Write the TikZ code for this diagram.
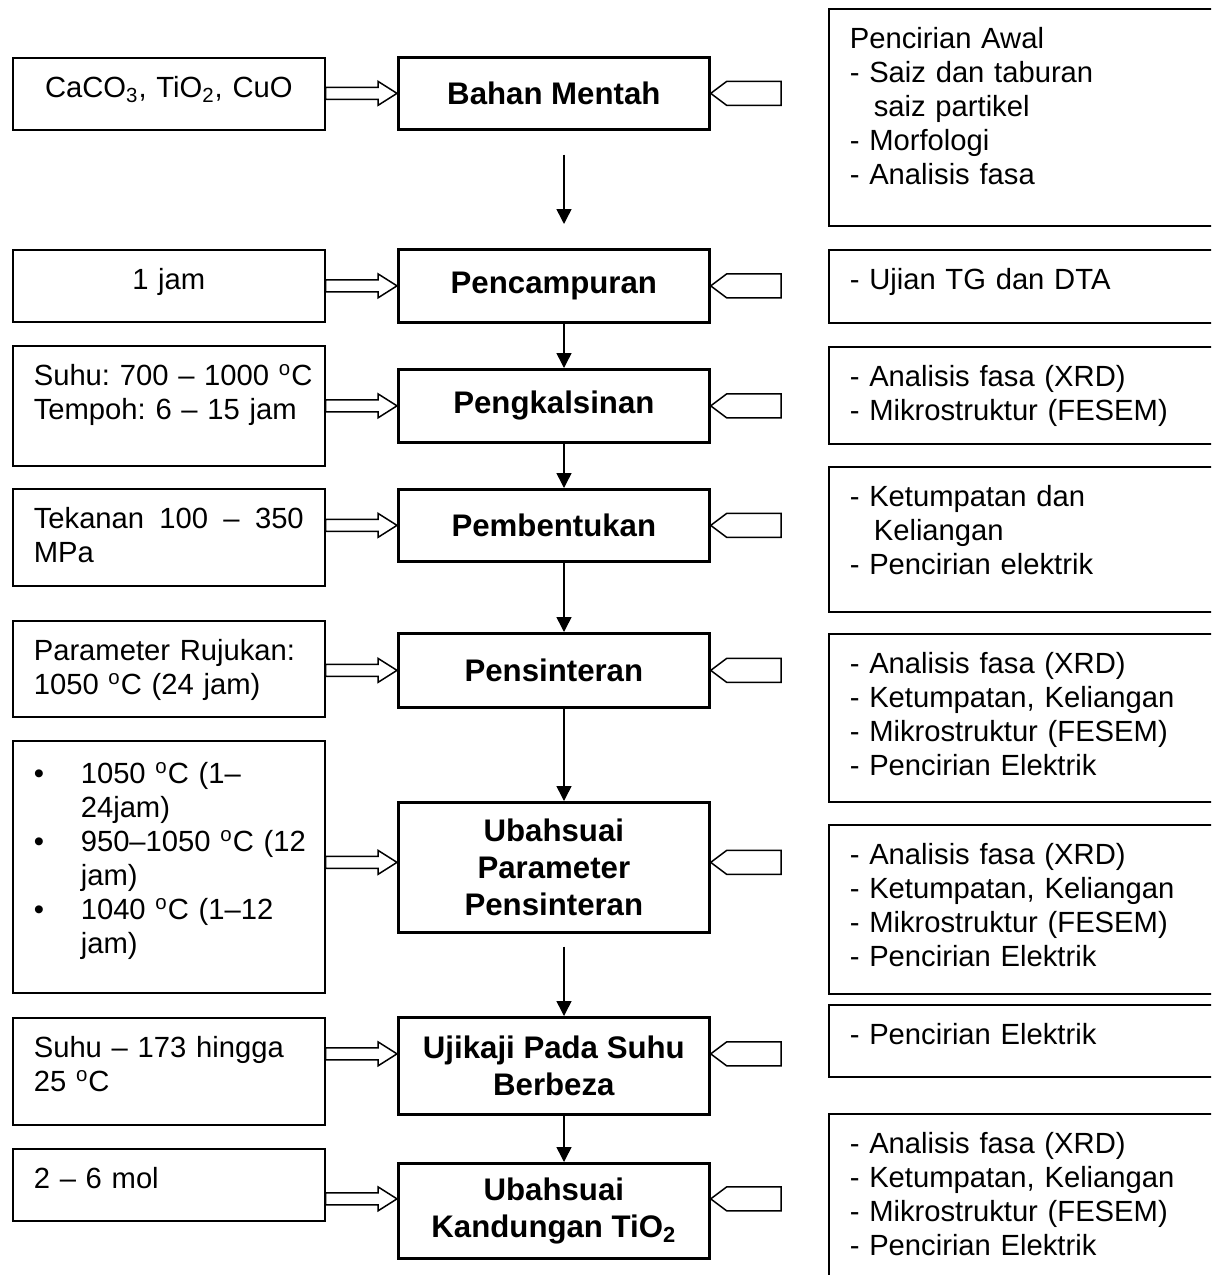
\documentclass[tikz,border=0pt]{standalone}
\usepackage{fontspec}
\setmainfont{Liberation Sans}
\usepackage{tikz}
\usetikzlibrary{calc, arrows.meta}
\hyphenpenalty=10000
\exhyphenpenalty=10000
\frenchspacing

\begin{document}
\begin{tikzpicture}[x=0.5pt, y=-0.5pt,
  every node/.style={font=\fontsize{14.6}{17}\selectfont},
  note/.style={draw, line width=0.8pt, anchor=north west, align=left,
              inner xsep=10.5pt, inner ysep=0pt, text height=20pt},
  input/.style={note, text width=135pt},
  check/.style={note, text width=184pt},
  stage/.style={draw, line width=1.35pt, anchor=north west, align=center,
              minimum width=155.5pt, inner sep=0pt,
              font=\fontsize{15.6}{18.5}\selectfont\bfseries},
  flow/.style={line width=0.75pt, -{Triangle[length=7.5pt, width=7.5pt]}},
  feed/.style={draw, line width=0.75pt, to path={let \p1=(\tikztostart), \p2=(\tikztotarget) in
     (\x1,\y2+3pt) -- (\x2-9.5pt,\y2+3pt) -- (\x2-9.5pt,\y2+6pt) -- (\x2,\y2)
     -- (\x2-9.5pt,\y2-6pt) -- (\x2-9.5pt,\y2-3pt) -- (\x1,\y2-3pt) -- cycle}},
  tag/.style={draw, line width=0.75pt, to path={let \p1=(\tikztostart), \p2=(\tikztotarget) in
     (\x1,\y2+6pt) -- (\x2+8pt,\y2+6pt) -- (\x2,\y2) -- (\x2+8pt,\y2-6pt)
     -- (\x1,\y2-6pt) -- cycle}},
]
\useasboundingbox (0,0) rectangle (1211,1275);
\clip (0,0) rectangle (1211,1275);

% process steps
\node[stage, minimum height=36pt] (c1) at (397,56) {Bahan Mentah};
\node[stage, minimum height=36.5pt] (c2) at (397,248) {Pencampuran};
\node[stage, minimum height=36.5pt] (c3) at (397,368) {Pengkalsinan};
\node[stage, minimum height=36pt] (c4) at (397,488) {Pembentukan};
\node[stage, minimum height=37pt] (c5) at (397,632) {Pensinteran};
\node[stage, minimum height=65pt] (c6) at (397,801) {Ubahsuai\\Parameter\\Pensinteran};
\node[stage, minimum height=48.5pt] (c7) at (397,1016) {Ujikaji Pada Suhu\\Berbeza};
\node[stage, minimum height=47.5pt] (c8) at (397,1162) {Ubahsuai\\Kandungan TiO\textsubscript{2}};

% inputs
\node[input, align=center, text depth=16pt] (l1) at (12,57) {CaCO\textsubscript{3}, TiO\textsubscript{2}, CuO};
\node[input, align=center, text depth=16pt] (l2) at (12,249) {1 jam};
\node[input, text depth=40pt] (l3) at (12,345) {\mbox{Suhu: 700 – 1000 \textsuperscript{o}C}\\Tempoh: 6 – 15 jam};
\node[input, text depth=28.5pt] (l4) at (12,488) {Tekanan\hfill 100\hfill –\hfill 350\\MPa};
\node[input, text depth=28pt] (l5) at (12,620) {\mbox{Parameter Rujukan:}\\1050 \textsuperscript{o}C (24 jam)};
\node[input, text height=21.5pt, text depth=104.5pt] (l6) at (12,740) {%
  \makebox[23.5pt][l]{\textbullet}1050 \textsuperscript{o}C (1–\\
  \hspace*{23.5pt}24jam)\\
  \makebox[23.5pt][l]{\textbullet}\mbox{950–1050 \textsuperscript{o}C (12}\\
  \hspace*{23.5pt}jam)\\
  \makebox[23.5pt][l]{\textbullet}1040 \textsuperscript{o}C (1–12\\
  \hspace*{23.5pt}jam)};
\node[input, text depth=33.5pt] (l7) at (12,1017) {Suhu – 173 hingga\\25 \textsuperscript{o}C};
\node[input, text depth=16pt] (l8) at (12,1148) {2 – 6 mol};

% checks
\node[check, text depth=88.5pt] (r1) at (828,8) {Pencirian Awal\\- Saiz dan taburan\\\hspace*{12pt}saiz partikel\\- Morfologi\\- Analisis fasa};
\node[check, text depth=16.5pt] (r2) at (828,249) {- Ujian TG dan DTA};
\node[check, text depth=28.5pt] (r3) at (828,346) {- Analisis fasa (XRD)\\- Mikrostruktur (FESEM)};
\node[check, text depth=52.5pt] (r4) at (828,466) {- Ketumpatan dan\\\hspace*{12pt}Keliangan\\- Pencirian elektrik};
\node[check, text depth=64pt] (r5) at (828,633) {- Analisis fasa (XRD)\\- Ketumpatan, Keliangan\\- Mikrostruktur (FESEM)\\- Pencirian Elektrik};
\node[check, text depth=64.5pt] (r6) at (828,824) {- Analisis fasa (XRD)\\- Ketumpatan, Keliangan\\- Mikrostruktur (FESEM)\\- Pencirian Elektrik};
\node[check, text depth=16pt] (r7) at (828,1004) {- Pencirian Elektrik};
\node[check, text depth=80pt] (r8) at (828,1113) {- Analisis fasa (XRD)\\- Ketumpatan, Keliangan\\- Mikrostruktur (FESEM)\\- Pencirian Elektrik};

\coordinate (spine) at (564,0);
\coordinate (tagend) at (781,0);

% main flow
\draw[flow, shorten <=12pt, shorten >=12pt] (c1.south -| spine) -- (c2.north -| spine);
\draw[flow] (c2.south -| spine) -- (c3.north -| spine);
\draw[flow] (c3.south -| spine) -- (c4.north -| spine);
\draw[flow] (c4.south -| spine) -- (c5.north -| spine);
\draw[flow] (c5.south -| spine) -- (c6.north -| spine);
\draw[flow, shorten <=6.5pt] (c6.south -| spine) -- (c7.north -| spine);
\draw[flow] (c7.south -| spine) -- (c8.north -| spine);

% inputs into steps
\draw[feed] (l1.east) to (c1.west);
\draw[feed] (l2.east) to (c2.west);
\draw[feed] (l3.east) to (c3.west);
\draw[feed] (l4.east) to (c4.west);
\draw[feed] (l5.east) to (c5.west);
\draw[feed] (l6.east) to ([yshift=2.5pt]c6.west);
\draw[feed] (l7.east) to ([yshift=6pt]c7.west);
\draw[feed] (l8.east) to ([yshift=6pt]c8.west);

% checks on steps
\draw[tag] (tagend) to (c1.east);
\draw[tag] (tagend) to (c2.east);
\draw[tag] (tagend) to (c3.east);
\draw[tag] (tagend) to (c4.east);
\draw[tag] (tagend) to (c5.east);
\draw[tag] (tagend) to ([yshift=2.5pt]c6.east);
\draw[tag] (tagend) to ([yshift=6pt]c7.east);
\draw[tag] (tagend) to ([yshift=6pt]c8.east);
\end{tikzpicture}
\end{document}
